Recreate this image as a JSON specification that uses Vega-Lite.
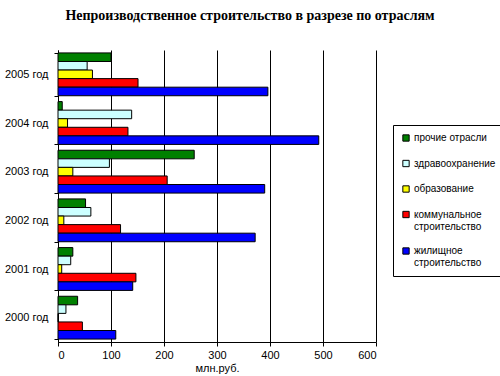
{
  "$schema": "https://vega.github.io/schema/vega-lite/v6.json",
  "autosize": {"type": "none"},
  "width": 318,
  "height": 292,
  "padding": {"left": 58, "top": 50, "right": 124, "bottom": 34},
  "background": "white",
  "title": {
    "text": "Непроизводственное строительство в разрезе по отраслям",
    "font": "Liberation Serif",
    "fontSize": 14,
    "fontWeight": "bold",
    "color": "#000",
    "anchor": "middle",
    "dx": 33,
    "offset": 21
  },
  "data": {
    "values": [
      {"year": "2005 год", "series": "прочие отрасли", "value": 100},
      {"year": "2005 год", "series": "здравоохранение", "value": 55},
      {"year": "2005 год", "series": "образование", "value": 65},
      {"year": "2005 год", "series": "коммунальное строительство", "value": 151},
      {"year": "2005 год", "series": "жилищное строительство", "value": 396},
      {"year": "2004 год", "series": "прочие отрасли", "value": 8},
      {"year": "2004 год", "series": "здравоохранение", "value": 139},
      {"year": "2004 год", "series": "образование", "value": 18},
      {"year": "2004 год", "series": "коммунальное строительство", "value": 132},
      {"year": "2004 год", "series": "жилищное строительство", "value": 492},
      {"year": "2003 год", "series": "прочие отрасли", "value": 257},
      {"year": "2003 год", "series": "здравоохранение", "value": 97},
      {"year": "2003 год", "series": "образование", "value": 28},
      {"year": "2003 год", "series": "коммунальное строительство", "value": 206},
      {"year": "2003 год", "series": "жилищное строительство", "value": 390},
      {"year": "2002 год", "series": "прочие отрасли", "value": 52},
      {"year": "2002 год", "series": "здравоохранение", "value": 62},
      {"year": "2002 год", "series": "образование", "value": 11},
      {"year": "2002 год", "series": "коммунальное строительство", "value": 118},
      {"year": "2002 год", "series": "жилищное строительство", "value": 372},
      {"year": "2001 год", "series": "прочие отрасли", "value": 28},
      {"year": "2001 год", "series": "здравоохранение", "value": 24},
      {"year": "2001 год", "series": "образование", "value": 7},
      {"year": "2001 год", "series": "коммунальное строительство", "value": 147},
      {"year": "2001 год", "series": "жилищное строительство", "value": 141},
      {"year": "2000 год", "series": "прочие отрасли", "value": 37},
      {"year": "2000 год", "series": "здравоохранение", "value": 15},
      {"year": "2000 год", "series": "образование", "value": 0},
      {"year": "2000 год", "series": "коммунальное строительство", "value": 46},
      {"year": "2000 год", "series": "жилищное строительство", "value": 109}
    ]
  },
  "mark": {"type": "bar", "stroke": "#000", "strokeWidth": 1},
  "encoding": {
    "y": {
      "field": "year",
      "type": "nominal",
      "sort": ["2005 год", "2004 год", "2003 год", "2002 год", "2001 год", "2000 год"],
      "scale": {"paddingInner": 0.12, "paddingOuter": 0.06},
      "axis": {
        "title": null,
        "tickBand": "extent",
        "domainColor": "#000",
        "tickColor": "#000",
        "tickSize": 4,
        "labelPadding": 6,
        "labelFont": "Liberation Sans",
        "labelFontSize": 11,
        "labelColor": "#000",
        "grid": false
      }
    },
    "yOffset": {
      "field": "series",
      "type": "nominal",
      "sort": ["прочие отрасли", "здравоохранение", "образование", "коммунальное строительство", "жилищное строительство"]
    },
    "x": {
      "field": "value",
      "type": "quantitative",
      "scale": {"domain": [0, 600], "nice": false},
      "axis": {
        "title": "млн.руб.",
        "values": [0, 100, 200, 300, 400, 500, 600],
        "grid": true,
        "gridColor": "#000",
        "gridOpacity": 1,
        "domainColor": "#000",
        "tickColor": "#000",
        "tickSize": 4,
        "labelPadding": 3,
        "labelFont": "Liberation Sans",
        "labelFontSize": 11,
        "labelColor": "#000",
        "titleFont": "Liberation Sans",
        "titleFontSize": 11,
        "titleFontWeight": "normal",
        "titleColor": "#000",
        "titlePadding": 2
      }
    },
    "color": {
      "field": "series",
      "type": "nominal",
      "sort": ["прочие отрасли", "здравоохранение", "образование", "коммунальное строительство", "жилищное строительство"],
      "scale": {"range": ["#008000", "#CCFFFF", "#FFFF00", "#FF0000", "#0000FF"]},
      "legend": {
        "title": null,
        "orient": "none",
        "legendX": 335,
        "legendY": 75,
        "strokeColor": "#000",
        "fillColor": "white",
        "padding": 8,
        "rowPadding": 13.5,
        "symbolType": "square",
        "symbolSize": 40,
        "symbolStrokeColor": "#000",
        "symbolStrokeWidth": 1,
        "symbolOpacity": 1,
        "labelFont": "Liberation Sans",
        "labelFontSize": 10,
        "labelColor": "#000",
        "labelOffset": 3,
        "labelExpr": "test(/строительство/, datum.label) ? split(datum.label, ' ') : datum.label"
      }
    }
  },
  "config": {"view": {"stroke": null}}
}
